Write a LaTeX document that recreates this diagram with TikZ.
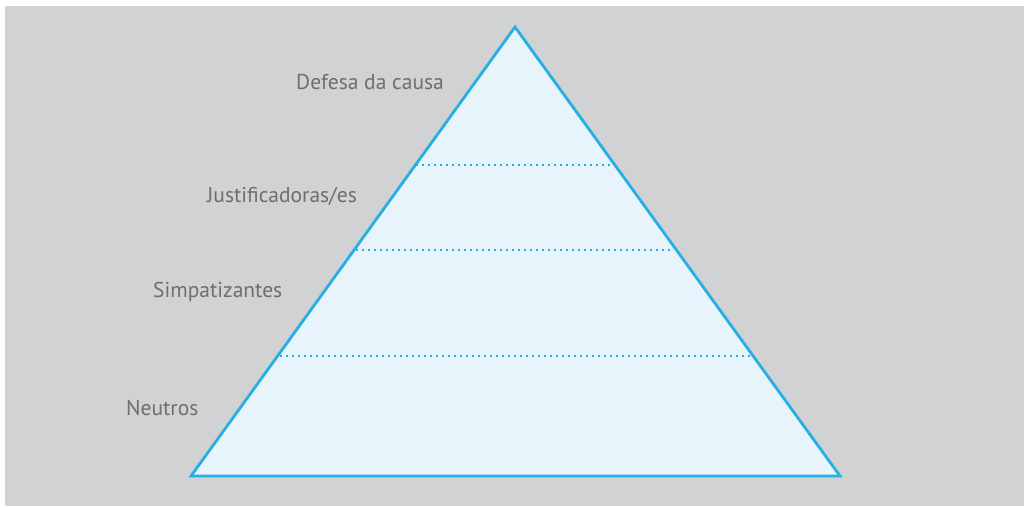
\documentclass[tikz,border=0pt]{standalone}
\usepackage{fontspec}
\setmainfont{PT Sans}
\definecolor{bgray}{HTML}{D1D2D3}
\definecolor{pblue}{HTML}{27AEE3}
\definecolor{pfill}{HTML}{E8F4FB}
\definecolor{tgray}{HTML}{6D6E70}
\begin{document}
\begin{tikzpicture}[x=1pt,y=-1pt,
  lbl/.style={anchor=west,inner sep=0pt,text=tgray,font=\fontsize{21.5}{24}\selectfont},
  sep/.style={draw=pblue,line width=2.4pt,dash pattern=on 2.4pt off 3.6pt}]
\useasboundingbox (0,0) rectangle (1024,506);
\fill[white] (0,0) rectangle (1024,506);
\fill[bgray] (5,6) rectangle (1024,506);
\coordinate (apex) at (515,27);
\coordinate (bl) at (191,476);
\coordinate (br) at (840,476);
\draw[pblue,fill=pfill,line width=2.8pt,line join=miter] (apex) -- (br) -- (bl) -- cycle;
\coordinate (a1) at (416,165); \coordinate (b1) at (612,165);
\coordinate (a2) at (356,250); \coordinate (b2) at (673,250);
\coordinate (a3) at (280,356); \coordinate (b3) at (750,356);
\draw[sep] (a1) -- (b1);
\draw[sep] (a2) -- (b2);
\draw[sep] (a3) -- (b3);
\node[lbl] (t1) at (296,82) {Defesa da causa};
\node[lbl] (t2) at (207,196) {Justificadoras/es};
\node[lbl] (t3) at (153,292) {Simpatizantes};
\node[lbl] (t4) at (126,408) {Neutros};
\end{tikzpicture}
\end{document}
